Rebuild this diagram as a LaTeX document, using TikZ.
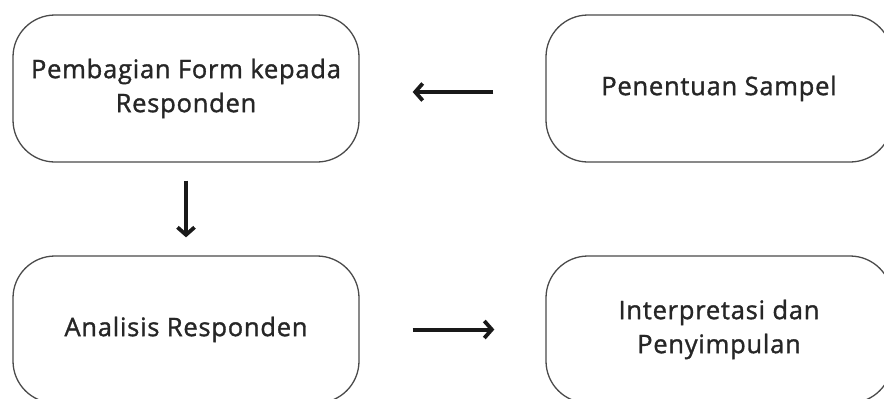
\documentclass[tikz,border=0pt]{standalone}
\usepackage{fontspec}
\setmainfont{Open Sans}
\newfontfamily\boxfont[FakeBold=1.3,LetterSpace=3]{Open Sans}
\usetikzlibrary{arrows.meta}
\definecolor{txt}{HTML}{262626}
\definecolor{edge}{HTML}{4A4A4A}
\begin{document}
\begin{tikzpicture}[x=1pt,y=-1pt,
  box/.style={draw=edge, line width=1.3pt, rounded corners=42pt, minimum width=346pt, minimum height=147pt, align=center, text=txt, font=\boxfont\fontsize{25.5}{34}\selectfont, inner sep=0pt},
  arr/.style={line width=4pt, draw=black!90, -{Straight Barb[length=7.5pt,width=17pt,line width=3.8pt]}}]
\useasboundingbox (0,0) rectangle (884,399);
\begin{scope}
\clip (0,0) rectangle (884,399);
\node[box] (form) at (186,88.5) {Pembagian Form kepada\\Responden};
\node[box] (sampel) at (719,88.5) {Penentuan Sampel};
\node[box] (analisis) at (186,329.5) {Analisis Responden};
\node[box] (interp) at (719,329.5) {Interpretasi dan\\Penyimpulan};
\end{scope}
\draw[arr] ([xshift=-52pt,yshift=-3.5pt]sampel.west) -- ([xshift=53pt,yshift=-3.5pt]form.east);
\draw[arr] ([yshift=-18pt]form.south) -- ([yshift=18pt]analisis.north);
\draw[arr] ([xshift=53pt]analisis.east) -- ([xshift=-51pt]interp.west);
\end{tikzpicture}
\end{document}
